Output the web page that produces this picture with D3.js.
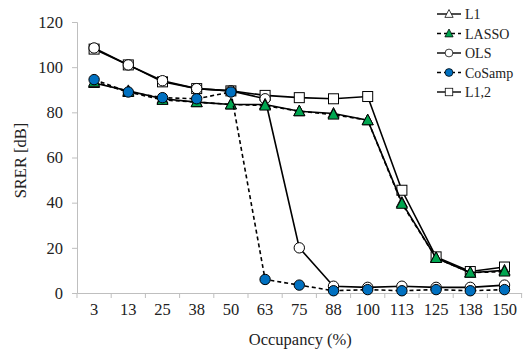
<!DOCTYPE html>
<html><head><meta charset="utf-8">
<script src="https://cdn.jsdelivr.net/npm/d3@7"></script>
<style>body{margin:0;background:#fff}svg{display:block}svg text{font-family:"Liberation Serif","Times New Roman",serif !important}</style>
</head><body><svg id="c" width="528" height="354"></svg>
<script>
const categories = ["3","13","25","38","50","63","75","88","100","113","125","138","150"];
const yTicks = [0,20,40,60,80,100,120];
const L1 =     [93, 89.5, 86, 84.5, 83.5, 83.5, 80.5, 79.5, 76.5, 40, 15.5, 9, 10];
const LASSO =  [93.5, 89, 85.5, 84.5, 83.5, 83, 80.5, 79, 76.5, 39.5, 15.5, 9, 9.5];
const OLS =    [108.5, 101, 94, 90.5, 89.5, 86, 20, 3, 2.5, 3, 2.5, 2.5, 3.5];
const CoSamp = [94.5, 89, 86.5, 86, 89, 6, 3.5, 1, 1.5, 1, 1.5, 1, 1.5];
const L12 =    [108, 101, 93.5, 90.5, 89.5, 87.5, 86.5, 86, 87, 45.5, 16, 9.5, 11.5];

const series = [
  {name:"L1", values:L1, dash:null, marker:"triangle", fill:"#fff"},
  {name:"LASSO", values:LASSO, dash:"4,3", marker:"triangle", fill:"#00a650"},
  {name:"OLS", values:OLS, dash:null, marker:"circle", fill:"#fff"},
  {name:"CoSamp", values:CoSamp, dash:"4,3", marker:"circle", fill:"#0070c0"},
  {name:"L1,2", values:L12, dash:null, marker:"square", fill:"#fff"}
];
const drawOrder = [4,2,0,1,3];

const FONT = "Liberation Serif";
const svg = d3.select("#c");
const mLeft = 77, mRight = 521.6, mTop = 22, mBottom = 293;
const x = d3.scaleBand().domain(categories).range([mLeft,mRight]);
const y = d3.scaleLinear().domain([0,120]).range([mBottom,mTop]);

const axisColor = "#bfbfbf";
// y axis
const gy = svg.append("g").attr("transform",`translate(${mLeft},0)`)
  .call(d3.axisLeft(y).tickValues(yTicks).tickSize(5).tickPadding(9));
gy.attr("font-family",FONT);
gy.select(".domain").attr("stroke",axisColor);
gy.selectAll(".tick line").attr("stroke",axisColor);
gy.selectAll("text").attr("font-size",16.5).attr("fill","#222");
// x axis
const gx = svg.append("g").attr("transform",`translate(0,${mBottom})`)
  .call(d3.axisBottom(x).tickSize(0).tickPadding(10));
gx.attr("font-family",FONT);
gx.select(".domain").attr("stroke",axisColor);
gx.selectAll("text").attr("font-size",16.5).attr("fill","#222");
// tick marks at band boundaries
const bounds = categories.map(c=>x(c)).concat([mRight]);
svg.append("g").selectAll("line").data(bounds).join("line")
  .attr("x1",d=>d).attr("x2",d=>d).attr("y1",mBottom).attr("y2",mBottom+5)
  .attr("stroke",axisColor);

svg.append("text").attr("transform",`translate(26,${(mTop+mBottom)/2+3}) rotate(-90)`)
  .attr("text-anchor","middle").attr("font-size",16.5).attr("font-family",FONT).attr("fill","#222").text("SRER [dB]");
svg.append("text").attr("x",(mLeft+mRight)/2+1).attr("y",345)
  .attr("text-anchor","middle").attr("font-size",16.5).attr("font-family",FONT).attr("fill","#222").text("Occupancy (%)");

const cx = i => x(categories[i]) + x.bandwidth()/2;
function marker(g, type, fill, px, py){
  if(type==="circle") g.append("circle").attr("cx",px).attr("cy",py).attr("r",5.2)
    .attr("fill",fill).attr("stroke","#000").attr("stroke-width",1);
  else if(type==="square") g.append("rect").attr("x",px-5).attr("y",py-5).attr("width",10).attr("height",10)
    .attr("fill",fill).attr("stroke","#000").attr("stroke-width",1);
  else g.append("path").attr("d",`M${px},${py-6}L${px+5.5},${py+4.5}L${px-5.5},${py+4.5}Z`)
    .attr("fill",fill).attr("stroke","#000").attr("stroke-width",1);
}
const line = d3.line().x((d,i)=>cx(i)).y(d=>y(d));
drawOrder.forEach(k=>{
  const s = series[k];
  const g = svg.append("g");
  g.append("path").attr("d",line(s.values)).attr("fill","none").attr("stroke","#000")
    .attr("stroke-width",1.6).attr("stroke-dasharray",s.dash);
  s.values.forEach((v,i)=>marker(g,s.marker,s.fill,cx(i),y(v)));
});

// legend
const lg = svg.append("g");
series.forEach((s,i)=>{
  const ly = 14 + i*19.5;
  lg.append("line").attr("x1",437).attr("x2",461).attr("y1",ly).attr("y2",ly)
    .attr("stroke","#000").attr("stroke-width",1.4).attr("stroke-dasharray",s.dash);
  const g = lg.append("g").attr("transform",`translate(449,${ly}) scale(0.75) translate(-449,${-ly})`);
  marker(g,s.marker,s.fill,449,ly);
  lg.append("text").attr("x",465).attr("y",ly+5).attr("font-size",14).attr("font-family",FONT).attr("fill","#222").text(s.name);
});
</script></body></html>
